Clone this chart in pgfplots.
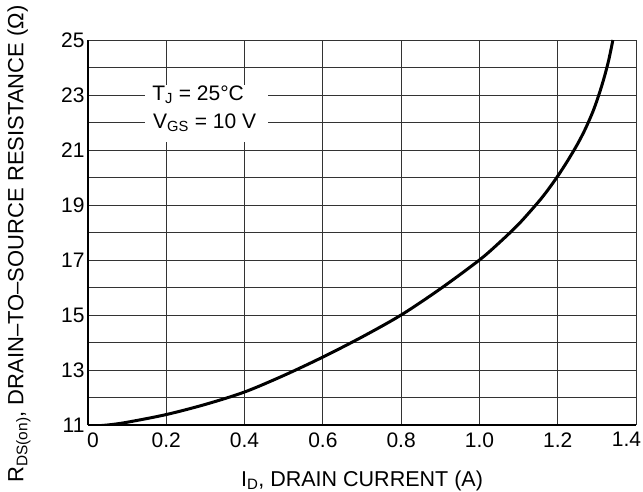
\documentclass[border=0pt]{standalone}
\usepackage{fontspec}
\setmainfont{Liberation Sans}
\usepackage{pgfplots}
\pgfplotsset{compat=1.18}
\begin{document}
\begin{tikzpicture}
\begin{axis}[
    scale only axis,
    width=548pt,
    height=385pt,
    xmin=0, xmax=1.4,
    ymin=11, ymax=25,
    xtick={0,0.2,0.4,0.6,0.8,1.0,1.2,1.4},
    xticklabels={0\hspace*{-10pt},0.2,0.4,0.6,0.8,1.0,1.2,\hspace*{-19pt}1.4},
    ytick={11,13,15,17,19,21,23,25},
    minor ytick={12,14,16,18,20,22,24},
    /pgf/number format/assume math mode=true,
    grid=both,
    major grid style={black!80, line width=0.9pt},
    minor grid style={black!80, line width=0.9pt},
    major tick length=0pt,
    minor tick length=0pt,
    axis x line*=bottom,
    axis y line*=left,
    axis line style={line width=2.2pt, -},
    tick label style={font=\fontsize{21}{24}\selectfont},
    xticklabel style={yshift=-4pt},
    xlabel={I\textsubscript{D}, DRAIN CURRENT (A)},
    ylabel={R\textsubscript{DS(on)}, DRAIN–TO–SOURCE RESISTANCE (Ω)},
    xlabel style={font=\fontsize{21.5}{24}\selectfont, at={(axis description cs:0.5,-0.1455)}, anchor=center},
    ylabel style={font=\fontsize{22}{24}\selectfont, at={(axis description cs:-0.126,0.47)}, anchor=center},
]
\fill[white] (axis cs:0.146,21.29) rectangle (axis cs:0.46,23.36);
\node[anchor=west, inner sep=0pt, font=\fontsize{21}{24}\selectfont] at (axis cs:0.164,23) {T\textsubscript{J} = 25°C};
\node[anchor=west, inner sep=0pt, font=\fontsize{21}{24}\selectfont] at (axis cs:0.166,22) {V\textsubscript{GS} = 10 V};
\addplot[black, line width=3pt, smooth] coordinates {
    (0,10.95) (0.05,11.0) (0.1,11.1) (0.2,11.38) (0.3,11.75) (0.4,12.2)
    (0.5,12.8) (0.6,13.47) (0.7,14.2) (0.8,15.0) (0.9,15.95) (1.0,17.0)
    (1.05,17.62) (1.1,18.3) (1.15,19.1) (1.175,19.55) (1.2,20.05)
    (1.225,20.6) (1.25,21.2) (1.27,21.75) (1.29,22.4) (1.305,23.0)
    (1.318,23.6) (1.33,24.25) (1.341,25.0)
};
\coordinate (sw) at (rel axis cs:0,0);
\coordinate (ne) at (rel axis cs:1,1);
\end{axis}
\pgfresetboundingbox
\path[use as bounding box] ([shift={(-88pt,-67pt)}]sw) rectangle ([shift={(7pt,40pt)}]ne);
\end{tikzpicture}
\end{document}
